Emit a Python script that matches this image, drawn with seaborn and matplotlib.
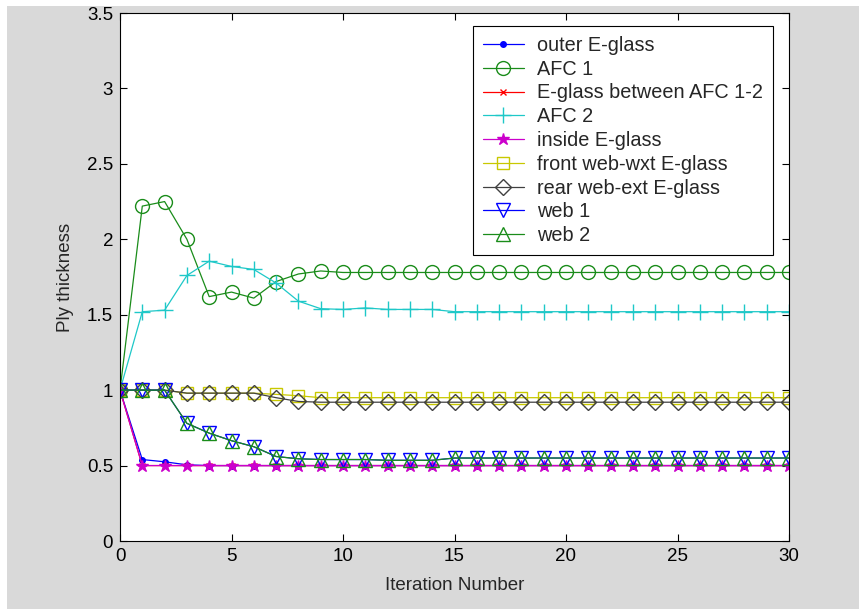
import matplotlib
matplotlib.use("Agg")
import matplotlib.pyplot as plt
from matplotlib.patches import Rectangle
import seaborn as sns
import numpy as np
import pandas as pd

iterations = list(range(31))

outer_eglass = [1.0, 0.54, 0.525, 0.505, 0.5, 0.5, 0.5, 0.5, 0.5, 0.5, 0.5,
                0.5, 0.5, 0.5, 0.5, 0.5, 0.5, 0.5, 0.5, 0.5, 0.5,
                0.5, 0.5, 0.5, 0.5, 0.5, 0.5, 0.5, 0.5, 0.5, 0.5]
afc1 = [1.0, 2.22, 2.25, 2.0, 1.62, 1.65, 1.61, 1.72, 1.77, 1.79, 1.78,
        1.78, 1.78, 1.78, 1.78, 1.78, 1.78, 1.78, 1.78, 1.78, 1.78,
        1.78, 1.78, 1.78, 1.78, 1.78, 1.78, 1.78, 1.78, 1.78, 1.78]
eglass_between = [1.0, 0.5, 0.5, 0.5, 0.5, 0.5, 0.5, 0.5, 0.5, 0.5, 0.5,
                  0.5, 0.5, 0.5, 0.5, 0.5, 0.5, 0.5, 0.5, 0.5, 0.5,
                  0.5, 0.5, 0.5, 0.5, 0.5, 0.5, 0.5, 0.5, 0.5, 0.5]
afc2 = [1.0, 1.52, 1.53, 1.76, 1.855, 1.82, 1.80, 1.71, 1.59, 1.54, 1.535,
        1.545, 1.535, 1.535, 1.535, 1.52, 1.52, 1.52, 1.52, 1.52, 1.52,
        1.52, 1.52, 1.52, 1.52, 1.52, 1.52, 1.52, 1.52, 1.52, 1.52]
inside_eglass = [1.0, 0.5, 0.5, 0.5, 0.5, 0.5, 0.5, 0.5, 0.5, 0.5, 0.5,
                 0.5, 0.5, 0.5, 0.5, 0.5, 0.5, 0.5, 0.5, 0.5, 0.5,
                 0.5, 0.5, 0.5, 0.5, 0.5, 0.5, 0.5, 0.5, 0.5, 0.5]
front_web = [1.0, 1.0, 1.0, 0.98, 0.98, 0.98, 0.98, 0.972, 0.963, 0.95, 0.95,
             0.95, 0.95, 0.95, 0.95, 0.95, 0.95, 0.95, 0.95, 0.95, 0.95,
             0.95, 0.95, 0.95, 0.95, 0.95, 0.95, 0.95, 0.95, 0.95, 0.95]
rear_web = [1.0, 1.0, 1.0, 0.98, 0.98, 0.98, 0.98, 0.95, 0.925, 0.92, 0.92,
            0.92, 0.92, 0.92, 0.92, 0.92, 0.92, 0.92, 0.92, 0.92, 0.92,
            0.92, 0.92, 0.92, 0.92, 0.92, 0.92, 0.92, 0.92, 0.92, 0.92]
web1 = [1.0, 1.0, 1.0, 0.78, 0.715, 0.665, 0.625, 0.56, 0.545, 0.54, 0.54,
        0.54, 0.535, 0.535, 0.535, 0.55, 0.55, 0.55, 0.55, 0.55, 0.55,
        0.55, 0.55, 0.55, 0.55, 0.55, 0.55, 0.55, 0.55, 0.55, 0.55]
web2 = [1.0, 1.0, 1.0, 0.78, 0.715, 0.665, 0.625, 0.56, 0.545, 0.54, 0.54,
        0.54, 0.535, 0.535, 0.535, 0.55, 0.55, 0.55, 0.55, 0.55, 0.55,
        0.55, 0.55, 0.55, 0.55, 0.55, 0.55, 0.55, 0.55, 0.55, 0.55]

labels = ["outer E-glass", "AFC 1", "E-glass between AFC 1-2", "AFC 2",
          "inside E-glass", "front web-wxt E-glass", "rear web-ext E-glass",
          "web 1", "web 2"]
series = [outer_eglass, afc1, eglass_between, afc2, inside_eglass,
          front_web, rear_web, web1, web2]
colors = ["#0000ff", "#1a8c1a", "#ff0000", "#1ec8c8", "#cc00cc",
          "#c8c800", "#404040", "#0000ff", "#1a8c1a"]
markers = [".", "o", "x", "+", "*", "s", "D", "v", "^"]
msizes = [8, 10, 5, 12, 9, 9, 8, 10, 10]

FS = 13.5
LFS = 14.3

sns.set_style("ticks")
plt.rcParams["font.family"] = ["Liberation Sans", "DejaVu Sans"]
plt.rcParams["font.size"] = FS

fig = plt.figure(figsize=(8.59, 6.09), dpi=100, facecolor="white")
fig.patches.append(Rectangle((7 / 859, 0), 1, 603 / 609, transform=fig.transFigure,
                             facecolor="#d9d9d9", edgecolor="none", zorder=-10))
ax = fig.add_axes([120 / 859, 68 / 609, 669 / 859, 528 / 609])
ax.set_facecolor("white")

for y, lab, c, m, ms in zip(series, labels, colors, markers, msizes):
    filled = m in (".", "x", "+", "*")
    sns.lineplot(x=iterations, y=y, ax=ax, color=c, marker=m, markersize=ms,
                 markerfacecolor=(c if filled else "none"), markeredgecolor=c,
                 markeredgewidth=1.0, linewidth=0.9, label=lab)

ax.set_xlim(0, 30)
ax.set_ylim(0, 3.5)
ax.set_xticks([0, 5, 10, 15, 20, 25, 30])
ax.set_yticks([0, 0.5, 1, 1.5, 2, 2.5, 3, 3.5])
ax.set_yticklabels(["0", "0.5", "1", "1.5", "2", "2.5", "3", "3.5"])
ax.tick_params(direction="in", top=True, right=True, length=5, width=0.8,
               labelsize=FS, colors="black", pad=5)
for s in ax.spines.values():
    s.set_color("black")
    s.set_linewidth(0.8)
ax.set_xlabel("Iteration Number", fontsize=FS, labelpad=9)
ax.set_ylabel("Ply thickness", fontsize=FS, labelpad=9)

leg = ax.legend(loc="upper right", bbox_to_anchor=(653 / 669, 515 / 528),
                borderaxespad=0.0,
                frameon=True, fancybox=False, edgecolor="black",
                handlelength=2.1, labelspacing=0.24, borderpad=0.5,
                handletextpad=0.65, fontsize=LFS, framealpha=1)
leg.get_frame().set_linewidth(0.8)

fig.savefig("out.png", dpi=100, facecolor=fig.get_facecolor())
